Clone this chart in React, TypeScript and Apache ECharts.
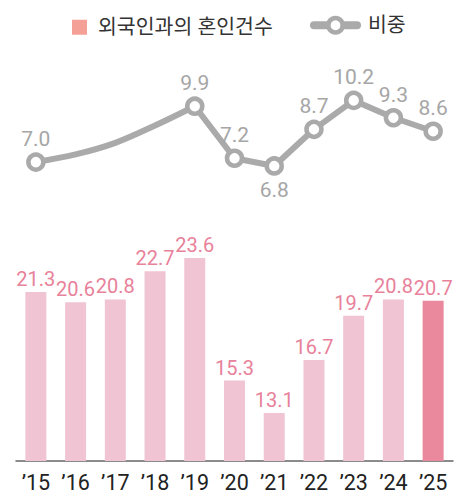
import React, { useEffect, useRef } from "react";
import * as echarts from "echarts";

const years = ["’15", "’16", "’17", "’18", "’19", "’20", "’21", "’22", "’23", "’24", "’25"];
const marriages = [21.3, 20.6, 20.8, 22.7, 23.6, 15.3, 13.1, 16.7, 19.7, 20.8, 20.7];
const shareCurve = [7.0, 7.4, 8.0, 8.9, 9.9, null, null, null, null, null, null];
const shareMarked = [7.0, "-", "-", "-", 9.9, 7.2, 6.8, 8.7, 10.2, 9.3, 8.6];
const belowLabelIndex = [6];

const FONT = "Roboto, 'Noto Sans CJK KR', sans-serif";
const BAR_NAME = "외국인과의 혼인건수";
const LINE_NAME = "비중";

export default function App() {
  const ref = useRef<HTMLDivElement>(null);
  useEffect(() => {
    document.body.style.margin = "0";
    if (!ref.current) return;
    const chart = echarts.init(ref.current, null, { renderer: "svg" });
    const lineColor = "#aaaaaa";
    chart.setOption({
      animation: false,
      textStyle: { fontFamily: FONT },
      legend: [
        {
          left: 67,
          top: 12,
          itemWidth: 15,
          itemHeight: 15,
          itemGap: 12,
          icon: "rect",
          data: [{ name: BAR_NAME, itemStyle: { color: "#f4a096" } }],
          textStyle: { fontSize: 20.5, color: "#333", fontFamily: FONT, padding: [0, 0, 0, 6] },
        },
        {
          left: 305,
          top: 10,
          itemWidth: 43,
          itemHeight: 18,
          itemGap: 9,
          data: [LINE_NAME],
          lineStyle: { width: 8, color: lineColor, cap: "round" },
          itemStyle: { color: "#ffffff", borderColor: lineColor, borderWidth: 4.5 },
          textStyle: { fontSize: 20.5, color: "#333", fontFamily: FONT, padding: [0, 0, 0, 6] },
        },
      ],
      grid: [
        { left: 16, right: 14, top: 220, bottom: 34 },
        { left: 16, right: 14, top: 85, bottom: 304 },
      ],
      xAxis: [
        {
          type: "category",
          gridIndex: 0,
          data: years,
          axisTick: { show: false },
          axisLine: { lineStyle: { color: "#666", width: 1.5 } },
          axisLabel: { fontSize: 21.5, color: "#222", margin: 11, fontFamily: FONT },
        },
        { type: "category", gridIndex: 1, data: years, show: false },
      ],
      yAxis: [
        { type: "value", gridIndex: 0, min: 9.85, max: 26.18, show: false },
        { type: "value", gridIndex: 1, min: 5.5, max: 11, show: false },
      ],
      series: [
        {
          name: BAR_NAME,
          type: "bar",
          xAxisIndex: 0,
          yAxisIndex: 0,
          barWidth: 21,
          data: marriages.map((v, i) => ({
            value: v,
            itemStyle: { color: i === marriages.length - 1 ? "#ea889d" : "#f0c4d3" },
          })),
          label: {
            show: true,
            position: "top",
            distance: 3,
            fontSize: 20,
            color: "#e8819a",
            fontFamily: FONT,
          },
        },
        {
          name: LINE_NAME + "_curve",
          type: "line",
          xAxisIndex: 1,
          yAxisIndex: 1,
          data: shareCurve,
          smooth: 0.35,
          showSymbol: false,
          symbol: "none",
          lineStyle: { color: lineColor, width: 6 },
          z: 2,
        },
        {
          name: LINE_NAME,
          type: "line",
          xAxisIndex: 1,
          yAxisIndex: 1,
          data: shareMarked.map((v, i) =>
            belowLabelIndex.includes(i)
              ? { value: v, label: { position: "bottom", distance: 4 } }
              : v
          ),
          connectNulls: false,
          symbol: "circle",
          symbolSize: 15,
          showSymbol: true,
          itemStyle: { color: "#ffffff", borderColor: lineColor, borderWidth: 4.5 },
          lineStyle: { color: lineColor, width: 6 },
          label: {
            show: true,
            position: "top",
            distance: 3,
            fontSize: 21,
            color: "#a6a6a6",
            fontFamily: FONT,
            formatter: (p: any) => Number(p.value).toFixed(1),
          },
          z: 3,
        },
      ],
    });
    return () => chart.dispose();
  }, []);
  return <div ref={ref} style={{ width: 467, height: 495 }} />;
}
